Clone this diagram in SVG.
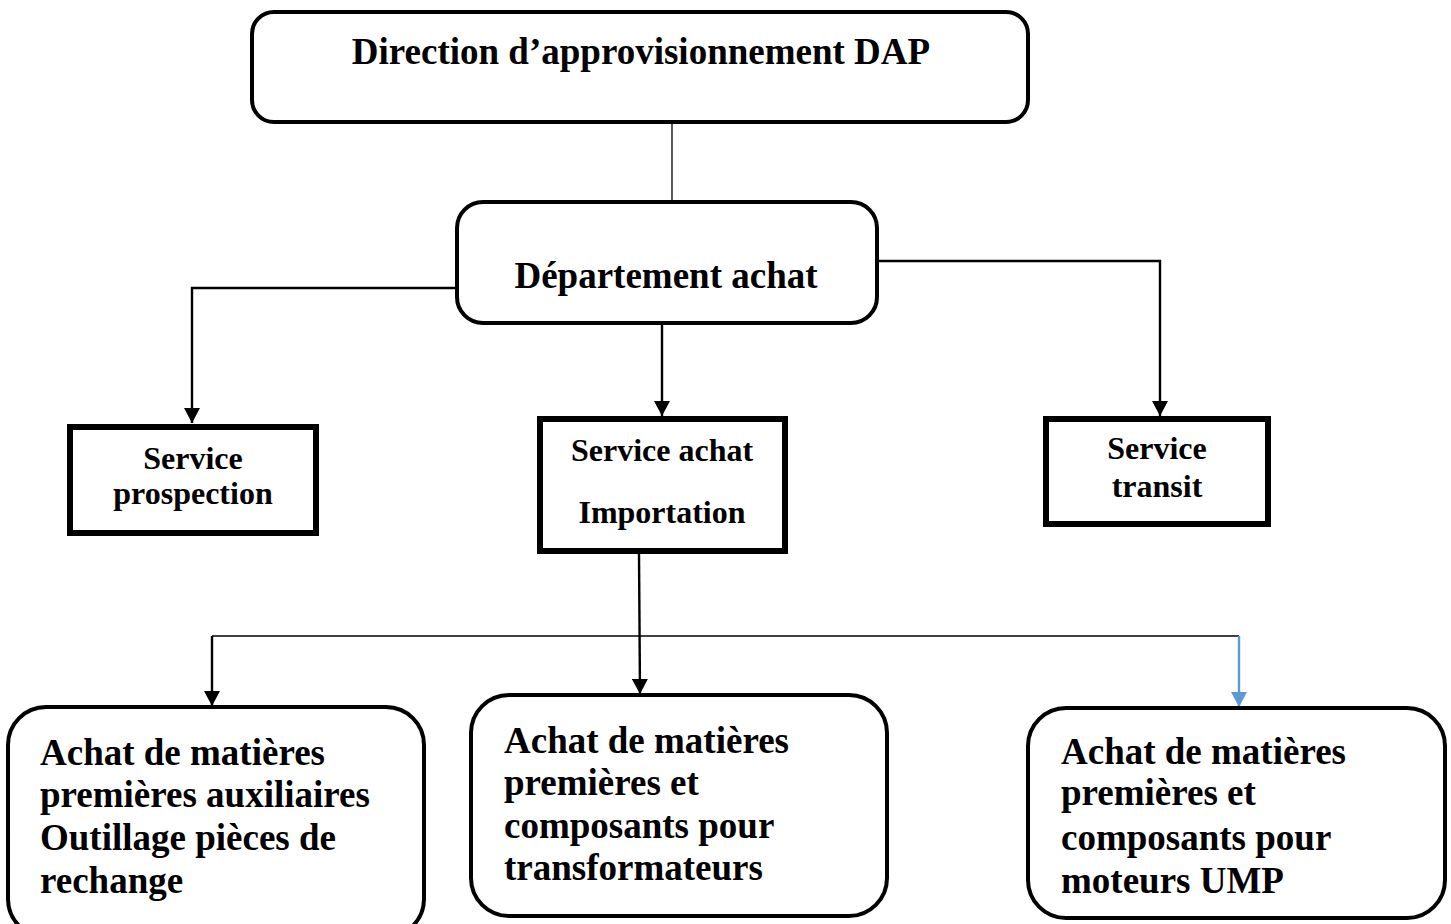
<svg xmlns="http://www.w3.org/2000/svg" width="1451" height="924" viewBox="0 0 1451 924">
  <defs>
    <marker id="head" markerWidth="16" markerHeight="16" refX="15" refY="8" orient="auto" markerUnits="userSpaceOnUse">
      <path d="M0,0 L15,8 L0,16 Z" fill="#000"/>
    </marker>
    <marker id="head-blue" markerWidth="16" markerHeight="16" refX="15" refY="8" orient="auto" markerUnits="userSpaceOnUse">
      <path d="M0,0 L15,8 L0,16 Z" fill="#5B9BD5"/>
    </marker>
  </defs>
  <style>
    text { font-family: "Liberation Serif", "Times New Roman", serif; font-weight: bold; fill: #000; }
    .round { fill: #fff; stroke: #000; stroke-width: 4; }
    .square { fill: #fff; stroke: #000; stroke-width: 6; }
    .big { font-size: 37px; }
    .mid { font-size: 32px; }
    .wire { fill: none; stroke: #000; stroke-width: 2.4; }
    .thin { fill: none; stroke: #000; stroke-width: 1.3; }
  </style>
  <rect width="1451" height="924" fill="#fff"/>

  <g id="connectors">
    <line class="thin" x1="672" y1="122" x2="672" y2="202"/>
    <polyline class="wire" points="457,288 192,288 192,423" marker-end="url(#head)"/>
    <line class="wire" x1="662" y1="323" x2="662" y2="416" marker-end="url(#head)"/>
    <polyline class="wire" points="877,261 1160,261 1160,416" marker-end="url(#head)"/>
    <line class="wire" x1="639" y1="554" x2="640" y2="694" marker-end="url(#head)"/>
    <line class="thin" x1="212" y1="636" x2="1239" y2="636"/>
    <line class="wire" x1="212" y1="636" x2="212" y2="706" marker-end="url(#head)"/>
    <line fill="none" stroke="#5B9BD5" stroke-width="2.4" x1="1239" y1="636" x2="1239" y2="707" marker-end="url(#head-blue)"/>
  </g>

  <g id="direction">
    <rect class="round" x="252" y="12" width="776" height="110" rx="22"/>
    <text class="big" x="641" y="64" text-anchor="middle">Direction d’approvisionnement DAP</text>
  </g>

  <g id="departement">
    <rect class="round" x="457" y="202" width="420" height="121" rx="26"/>
    <text class="big" x="666" y="288" text-anchor="middle">Département achat</text>
  </g>

  <g id="service-prospection">
    <rect class="square" x="70" y="427" width="246" height="106"/>
    <text class="mid" x="193" y="469" text-anchor="middle">Service</text>
    <text class="mid" x="193" y="504" text-anchor="middle">prospection</text>
  </g>

  <g id="service-achat">
    <rect class="square" x="540" y="419" width="245" height="132"/>
    <text class="mid" x="662" y="461" text-anchor="middle">Service achat</text>
    <text class="mid" x="662" y="523" text-anchor="middle">Importation</text>
  </g>

  <g id="service-transit">
    <rect class="square" x="1046" y="419" width="222" height="105"/>
    <text class="mid" x="1157" y="459" text-anchor="middle">Service</text>
    <text class="mid" x="1157" y="497" text-anchor="middle">transit</text>
  </g>

  <g id="achat-auxiliaires">
    <rect class="round" x="8" y="707" width="416" height="230" rx="38"/>
    <text class="big" x="40" y="765">Achat de matières</text>
    <text class="big" x="40" y="807">premières auxiliaires</text>
    <text class="big" x="40" y="850">Outillage pièces de</text>
    <text class="big" x="40" y="893">rechange</text>
  </g>

  <g id="achat-transformateurs">
    <rect class="round" x="471" y="695" width="416" height="221" rx="38"/>
    <text class="big" x="504" y="753">Achat de matières</text>
    <text class="big" x="504" y="795">premières et</text>
    <text class="big" x="504" y="838">composants pour</text>
    <text class="big" x="504" y="880">transformateurs</text>
  </g>

  <g id="achat-moteurs">
    <rect class="round" x="1028" y="708" width="417" height="210" rx="38"/>
    <text class="big" x="1061" y="764">Achat de matières</text>
    <text class="big" x="1061" y="805">premières et</text>
    <text class="big" x="1061" y="850">composants pour</text>
    <text class="big" x="1061" y="893">moteurs UMP</text>
  </g>
</svg>
